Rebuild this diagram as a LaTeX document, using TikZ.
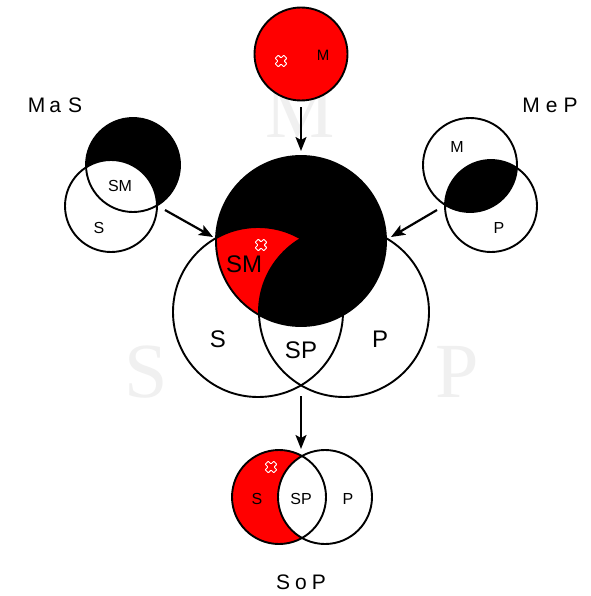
\documentclass[tikz,border=0pt]{standalone}
\usepackage{fontspec}
\setmainfont{Liberation Sans}
\newfontfamily\wmfont{Liberation Serif}
\usetikzlibrary{arrows.meta}

\begin{document}
\begin{tikzpicture}[x=1pt,y=-1pt,
  venn/.style={circle, draw, line width=1.9pt, inner sep=0pt, outer sep=0pt},
  flow/.style={line width=2.2pt, -{Stealth[length=14pt,width=11pt,inset=3pt]}},
  lbl/.style={font=\fontsize{16}{16}\selectfont},
  biglbl/.style={font=\fontsize{24}{24}\selectfont},
  ttl/.style={font=\fontsize{21}{21}\selectfont},
  wm/.style={font=\wmfont\fontsize{78}{78}\selectfont, text=black!6},
  cross/.pic={\draw[white, line width=0.9pt, rotate=45, rounded corners=0.6pt]
    (-2.2,-6)--(2.2,-6)--(2.2,-2.2)--(6,-2.2)--(6,2.2)--(2.2,2.2)--(2.2,6)
    --(-2.2,6)--(-2.2,2.2)--(-6,2.2)--(-6,-2.2)--(-2.2,-2.2)--cycle;}
]
\path[use as bounding box, fill=white] (0,0) rectangle (590,596);

% faint letters in the background
\node[wm] (wmM) at (300,112) {M};
\node[wm] (wmS) at (146,372) {S};
\node[wm] (wmP) at (457,372) {P};

% ---- top: M alone ----
\fill[red] (301,54) circle (46.5);
\node[venn, minimum size=93pt] (topM) at (301,54) {};
\node[lbl, font=\fontsize{15}{15}\selectfont] (topMl) at (323,55) {M};
\pic at (281,61) {cross};

% ---- left: MaS ----
\begin{scope}
  \clip (0,0) rectangle (590,596) (111,206) circle (46);
  \fill (133,165) circle (47);
\end{scope}
\node[venn, minimum size=94pt] (masM) at (133,165) {};
\node[venn, minimum size=92pt] (masS) at (111,206) {};
\node[lbl] (masSM) at (120,186) {SM};
\node[lbl] (masSl) at (99,228) {S};
\node[ttl] (masT) at (55,105) {M\kern4pt a\kern7pt S};

% ---- right: MeP ----
\begin{scope}
  \clip (470,165) circle (47);
  \fill (491,206) circle (46);
\end{scope}
\node[venn, minimum size=94pt] (mepM) at (470,165) {};
\node[venn, minimum size=92pt] (mepP) at (491,206) {};
\node[lbl] (mepMl) at (457,147) {M};
\node[lbl] (mepPl) at (499,228) {P};
\node[ttl] (mepT) at (550,105) {M\kern6pt e\kern6pt P};

% ---- centre: S, M, P ----
\fill (301,241) circle (85);
\begin{scope}
  \clip (258,312) circle (85);
  \clip (301,241) circle (85);
  \fill[red] (150,150) rectangle (450,400);
  \fill (344,312) circle (85);
\end{scope}
\node[venn, minimum size=170pt] (mainS) at (258,312) {};
\node[venn, minimum size=170pt] (mainP) at (344,312) {};
\node[venn, minimum size=170pt] (mainM) at (301,241) {};
\node[biglbl] (mainSM) at (244,264) {SM};
\pic at (261,245) {cross};
\node[biglbl] (mainSl) at (218,339) {S};
\node[biglbl] (mainSP) at (301,350) {SP};
\node[biglbl] (mainPl) at (380,339) {P};

% ---- bottom: SoP ----
\begin{scope}
  \clip (0,0) rectangle (590,596) (325,497) circle (47);
  \fill[red] (279,497) circle (47);
\end{scope}
\node[venn, minimum size=94pt] (sopS) at (279,497) {};
\node[venn, minimum size=94pt] (sopP) at (325,497) {};
\pic at (271,467) {cross};
\node[lbl] (sopSl) at (257,499) {S};
\node[lbl] (sopSP) at (301,499) {SP};
\node[lbl] (sopPl) at (348,499) {P};
\node[ttl] (sopT) at (301,582) {S\kern5pt o\kern5pt P};

% ---- connectors ----
\coordinate (masOut) at (165,210);
\coordinate (mainInL) at (213,237);
\coordinate (mepOut) at (437,210);
\coordinate (mainInR) at (391,237);
\coordinate (mainOut) at (301,396);
\coordinate (sopIn) at (301,449);
\draw[flow, shorten <=7pt, shorten >=5pt] (topM) -- (mainM);
\draw[flow] (masOut) -- (mainInL);
\draw[flow] (mepOut) -- (mainInR);
\draw[flow] (mainOut) -- (sopIn);
\end{tikzpicture}
\end{document}
